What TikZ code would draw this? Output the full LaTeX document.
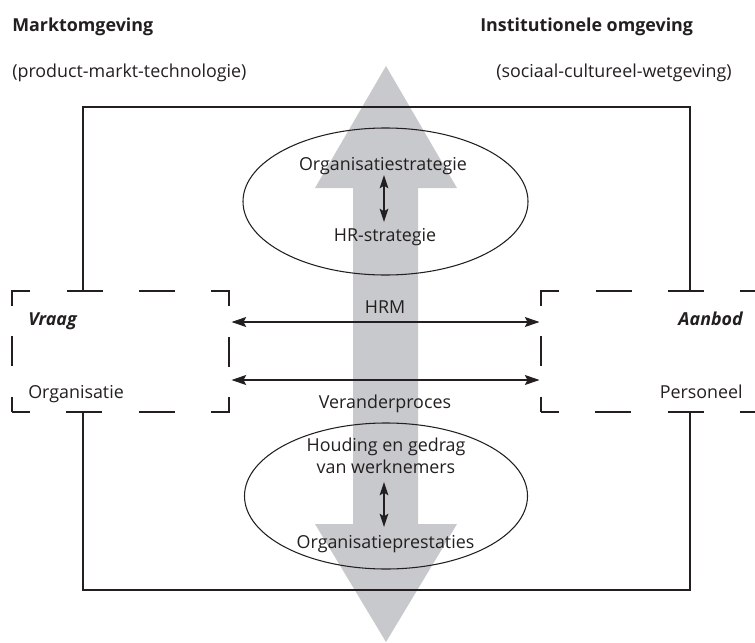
\documentclass[tikz,border=0pt]{standalone}
\usepackage{fontspec}
\setmainfont{Open Sans}
\usetikzlibrary{arrows.meta,shapes.geometric,calc}
\definecolor{arrowgray}{RGB}{200,201,204}
\definecolor{ink}{RGB}{35,31,32}
\begin{document}
\begin{tikzpicture}[x=0.75pt,y=-0.75pt,
  txt/.style={inner sep=0pt,text=ink,font=\fontsize{13.4}{16.5}\selectfont},
  hdr/.style={txt,font=\fontsize{13.4}{16.5}\selectfont\bfseries},
  frame/.style={draw=ink,line width=0.85pt},
  dashbox/.style={draw=ink,line width=0.8pt,inner sep=0pt,
    minimum width=162.75pt,minimum height=90.75pt,
    dash pattern=on 24.75pt off 27.2pt on 27pt off 27.2pt on 27pt off 27.2pt on 24.75pt off 22.9pt on 22.5pt off 22.9pt,
    dash phase=11.25pt},
  oval/.style={draw=ink,line width=0.8pt,ellipse,inner sep=0pt},
  link/.style={draw=ink,line width=0.8pt,{Stealth[length=11pt,width=7.5pt,inset=2pt]}-{Stealth[length=11pt,width=7.5pt,inset=2pt]}},
  vlink/.style={draw=ink,line width=0.8pt,{Stealth[length=10pt,width=6.5pt,inset=2pt]}-{Stealth[length=10pt,width=6.5pt,inset=2pt]}}
]
\useasboundingbox (0,0) rectangle (755,642);
\begin{scope}
\clip (0,0) rectangle (755,642);

% big grey double arrow
\fill[arrowgray] (386,66) -- (457,188) -- (418,188) -- (418,524) -- (457,524)
  -- (386,642) -- (315,524) -- (353,524) -- (353,188) -- (315,188) -- cycle;

% headings
\node[hdr,anchor=base west] (markt) at (12,32) {Marktomgeving};
\node[txt,anchor=base west] (pmt) at (12,77) {(product-markt-technologie)};
\node[hdr,anchor=base west] (inst) at (480,32) {Institutionele omgeving};
\node[txt,anchor=base west] (scw) at (496,77) {(sociaal-cultureel-wetgeving)};

% dashed boxes
\node[dashbox] (vraag) at (120.5,351.5) {};
\node[dashbox] (aanbod) at (649.5,351.5) {};
\node[txt,anchor=base west,font=\fontsize{13.4}{16.5}\selectfont\bfseries\itshape] (vraagt) at (28,325) {Vraag};
\node[txt,anchor=base west] (org) at (28,398) {Organisatie};
\node[txt,anchor=base east,font=\fontsize{13.4}{16.5}\selectfont\bfseries\itshape] (aanbodt) at (743,325) {Aanbod};
\node[txt,anchor=base east] (pers) at (743,398) {Personeel};

% outer frame
\coordinate (ftl) at (83,107);
\coordinate (ftr) at (690,107);
\coordinate (fbl) at (83,590);
\coordinate (fbr) at (690,590);
\draw[frame] (vraag.north -| ftl) -- (ftl) -- (ftr) -- (aanbod.north -| ftr);
\draw[frame] (vraag.south -| fbl) -- (fbl) -- (fbr) -- (aanbod.south -| fbr);

% HRM and Veranderproces
\node[txt,anchor=base] (hrm) at (385,313) {HRM};
\draw[link] ($(vraag.east)+(2,-29.5)$) -- ($(aanbod.west)+(-1,-29.5)$);
\draw[link] ($(vraag.east)+(2,28.5)$) -- ($(aanbod.west)+(-1,28.5)$);
\node[txt,anchor=base] (verander) at (385,408) {Veranderproces};

% top ellipse
\node[oval,minimum width=213.75pt,minimum height=110.25pt] (topov) at (385.5,201.5) {};
\node[txt,anchor=base] (ostrat) at (383,170) {Organisatiestrategie};
\node[txt,anchor=base] (hrstrat) at (385,241) {HR-strategie};
\coordinate (ta) at (384,175);
\coordinate (tb) at (384,222);
\draw[vlink] (ta) -- (tb);

% bottom ellipse
\node[oval,minimum width=212.25pt,minimum height=109.5pt] (botov) at (386,496) {};
\node[txt,anchor=base] (houding1) at (386,451) {Houding en gedrag};
\node[txt,anchor=base] (houding2) at (386,473) {van werknemers};
\node[txt,anchor=base] (prest) at (385.5,548) {Organisatieprestaties};
\coordinate (ba) at (384,482);
\coordinate (bb) at (384,527);
\draw[vlink] (ba) -- (bb);
\end{scope}
\end{tikzpicture}
\end{document}
